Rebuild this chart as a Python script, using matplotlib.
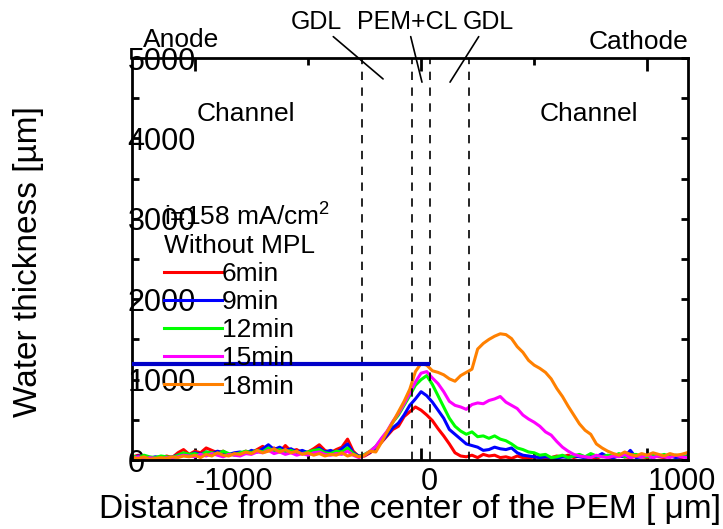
import numpy as np
import matplotlib
matplotlib.use('Agg')
import matplotlib.pyplot as plt
from matplotlib.ticker import MultipleLocator

plt.rcParams['font.family'] = ['Liberation Sans', 'DejaVu Sans']
plt.rcParams['mathtext.fontset'] = 'custom'
plt.rcParams['mathtext.rm'] = 'Liberation Sans'
plt.rcParams['mathtext.it'] = 'Liberation Sans:italic'
plt.rcParams['axes.unicode_minus'] = False

# distance from the PEM centre [um], sampled every 25 um
distance = np.arange(-1275, 1176, 25)

# water thickness [um] at each elapsed time
wt_6min = [40, 60, 30, 20, 30, 20, 50, 30, 90, 130,
           70, 110, 90, 150, 120, 90, 110, 60, 80, 70,
           110, 90, 130, 170, 120, 150, 100, 180, 110, 130,
           90, 100, 140, 190, 120, 90, 130, 160, 260, 110,
           40,
           50, 90, 150, 220, 300, 380, 420, 540, 600, 660,
           620, 560, 490, 390, 300, 200, 90, 50, 40, 60,
           30, 70, 50, 60, 30, 40, 20, 50, 30, 20,
           40, 30, 20, 30, 50, 40, 60, 30, 50, 30,
           40, 20, 50, 40, 30, 60, 40, 30, 50, 40,
           30, 50, 40, 30, 50, 40, 30, 50]
wt_9min = [30, 50, 40, 20, 40, 30, 20, 40, 60, 80,
           60, 90, 70, 100, 80, 110, 90, 70, 90, 100,
           80, 120, 100, 140, 190, 130, 160, 120, 140, 100,
           120, 90, 110, 150, 100, 120, 90, 140, 200, 90,
           50,
           60, 100, 150, 230, 310, 400, 460, 560, 680, 760,
           850, 800, 720, 620, 520, 380, 320, 260, 200, 180,
           160, 120, 130, 160, 140, 130, 150, 90, 60, 50,
           40, 30, 40,
           30, 20, 40, 30, 50, 40, 30, 60, 40, 80,
           40, 30, 50, 40, 120, 30, 40, 50, 30, 60,
           40, 50, 30, 40, 50]
wt_12min = [50, 30, 60, 40, 30, 50, 40, 30, 60, 90,
            70, 80, 60, 100, 90, 70, 110, 80, 60, 90,
            110, 90, 120, 100, 150, 110, 130, 100, 120, 90,
            80, 100, 120, 130, 90, 80, 110, 100, 150, 80,
            40,
            70, 110, 170, 260, 350, 470, 560, 680, 800, 930,
            1000, 1050, 940, 800, 660, 520, 420, 360, 320, 350,
            290, 300, 270, 300, 260, 240, 200, 150, 130, 100,
            90, 60, 70, 30,
            40, 60, 30, 50, 70, 40, 80, 50, 40, 60,
            50, 80, 40, 60, 70, 50, 40, 60, 50, 70,
            40, 60, 50, 40]
wt_15min = [20, 40, 10, 30, 20, 10, 30, 20, 40, 60,
            50, 40, 70, 50, 80, 60, 40, 70, 60, 50,
            80, 70, 100, 90, 120, 80, 100, 70, 90, 60,
            80, 60, 90, 100, 70, 60, 80, 70, 110, 60,
            30,
            60, 110, 170, 270, 360, 480, 580, 700, 830, 970,
            1080, 1100, 1020, 950, 850, 730, 680, 660, 630, 690,
            710, 700, 740, 760, 790, 720, 680, 640, 560, 510,
            470, 420, 350, 310, 230, 160, 110, 70, 50, 40,
            30, 60, 40, 30, 50, 40, 70, 30, 50, 40,
            60, 30, 50, 40, 30, 60, 40, 30]
wt_18min = [30, 20, 40, 10, 20, 30, 20, 40, 30, 50,
            40, 60, 30, 70, 50, 90, 60, 50, 80, 70,
            100, 80, 120, 90, 110, 140, 100, 130, 90, 110,
            70, 90, 60, 80, 50, 70, 60, 90, 50, 70,
            40,
            60, 110, 100, 220, 350, 470, 600, 730, 880, 1100,
            1200, 1180, 1110, 1090, 1060, 1010, 980, 1050, 1090, 1130,
            1380, 1450, 1500, 1540, 1570, 1560, 1510, 1410, 1340, 1240,
            1180, 1140, 1090, 1010, 890, 790, 670, 560, 450, 370,
            320, 200, 150, 110,
            80, 60, 100, 70, 50, 80, 60, 90, 70, 50,
            80, 60, 70, 90]

series = [wt_6min, wt_9min, wt_12min, wt_15min, wt_18min]
labels = ['6min', '9min', '12min', '15min', '18min']
colors = ['#ff0000', '#0000ff', '#00ff00', '#ff00ff', '#ff8000']

# GDL / PEM+CL / GDL boundaries [um]
boundaries = [-260, -40, 40, 210]

# horizontal level line
level_x = [-1270, 30]
level_y = [1200, 1200]

fig = plt.figure(figsize=(7.23, 5.29), dpi=100)
ax = fig.add_axes([0.1819, 0.1304, 0.7697, 0.7599])

lines = []
for y, lab, c in zip(series, labels, colors):
    ln, = ax.plot(distance, y, color=c, lw=2.2, label=lab)
    lines.append(ln)

for b in boundaries:
    ax.axvline(b, color='black', lw=1.2, ls=(0, (5, 4.5)))

ax.plot(level_x, level_y, color='#0000c8', lw=3.0, zorder=5)

ax.set_xlim(-1280, 1180)
ax.set_ylim(0, 5000)
ax.xaxis.set_major_locator(MultipleLocator(1000))
ax.xaxis.set_minor_locator(MultipleLocator(500))
ax.yaxis.set_major_locator(MultipleLocator(1000))
ax.yaxis.set_minor_locator(MultipleLocator(500))

ax.tick_params(which='both', direction='in', top=True, right=True, width=2,
               labelsize=22)
ax.tick_params(axis='x', which='major', length=9, pad=5)
ax.tick_params(axis='x', which='minor', length=5)
ax.tick_params(axis='y', which='both', length=5, pad=3)
for sp in ax.spines.values():
    sp.set_linewidth(2)

fig.canvas.draw()
for tl in ax.get_xticklabels():
    tl.set_ha('left')
for tl in ax.get_yticklabels():
    tl.set_ha('left')

ax.set_xlabel('Distance from the center of the PEM [ \u03bcm]', fontsize=24)
ax.xaxis.set_label_coords(0.5, -0.124)
ax.xaxis.label.set_va('center')
ax.set_ylabel('Water thickness [\u00b5m]', fontsize=24)
ax.yaxis.set_label_coords(-0.186, 0.4925)
ax.yaxis.label.set_va('center')

# electrode side / channel labels
ax.text(-1230, 5225, 'Anode', fontsize=19, ha='left', va='center')
ax.text(1180, 5200, 'Cathode', fontsize=19, ha='right', va='center')
ax.text(-990, 4300, 'Channel', fontsize=19, ha='left', va='center')
ax.text(522, 4300, 'Channel', fontsize=19, ha='left', va='center')

# layer names with leader lines
layer_notes = [('GDL', (-465, 5450), (-168, 4740)),
               ('PEM+CL', (-62, 5450), (4, 4700)),
               ('GDL', (296, 5450), (128, 4700))]
for txt, pos, tip in layer_notes:
    ax.annotate(txt, xy=tip, xytext=pos, fontsize=18, ha='center', va='center',
                annotation_clip=False,
                arrowprops=dict(arrowstyle='-', lw=1.2, color='black',
                                shrinkA=0, shrinkB=0))

leg = ax.legend(handles=lines, title='i=158 mA/cm$^2$\nWithout MPL',
                loc='upper left', bbox_to_anchor=(164 / 723, 1 - 203 / 529),
                bbox_transform=fig.transFigure, frameon=False, fontsize=19,
                title_fontsize=19, handlelength=2.2, handletextpad=0,
                labelspacing=0.156, borderpad=0, borderaxespad=0,
                alignment='left')
for ln in leg.get_lines():
    ln.set_linewidth(2.2)

fig.savefig('out.png', dpi=100)
